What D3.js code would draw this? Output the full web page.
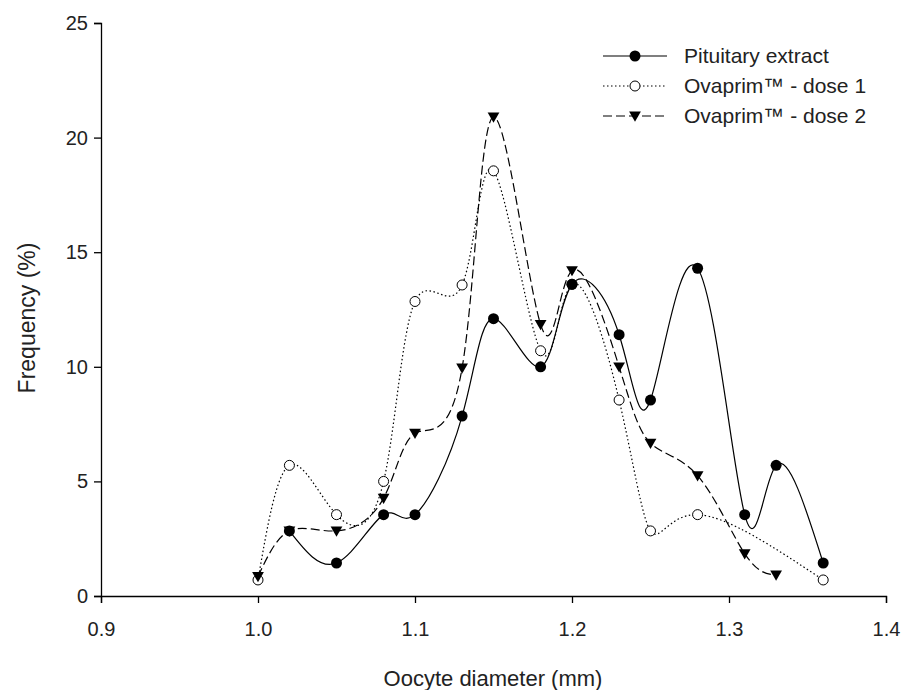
<!DOCTYPE html>
<html>
<head>
<meta charset="utf-8">
<script src="https://cdn.jsdelivr.net/npm/d3@7"></script>
<style>
  body { margin: 0; background: #fff; }
  svg { font-family: "Liberation Sans", Arial, sans-serif; }
</style>
</head>
<body>
<div id="chart"></div>
<script>
// data
var pitX = [1.02, 1.05, 1.08, 1.10, 1.13, 1.15, 1.18, 1.20, 1.23, 1.25, 1.28, 1.31, 1.33, 1.36];
var pitY = [2.84, 1.44, 3.55, 3.55, 7.85, 12.1, 10.0, 13.6, 11.4, 8.55, 14.3, 3.55, 5.7, 1.44];

var dose1X = [1.00, 1.02, 1.05, 1.08, 1.10, 1.13, 1.15, 1.18, 1.20, 1.23, 1.25, 1.28, 1.36];
var dose1Y = [0.7, 5.7, 3.55, 5.0, 12.85, 13.57, 18.55, 10.7, 13.6, 8.55, 2.84, 3.55, 0.7];

var dose2X = [1.00, 1.02, 1.05, 1.08, 1.10, 1.13, 1.15, 1.18, 1.20, 1.23, 1.25, 1.28, 1.31, 1.33];
var dose2Y = [0.85, 2.84, 2.84, 4.27, 7.1, 9.95, 20.9, 11.85, 14.2, 10.0, 6.67, 5.25, 1.85, 0.92];

var xTicks = [0.9, 1.0, 1.1, 1.2, 1.3, 1.4];
var yTicks = [0, 5, 10, 15, 20, 25];
var names = ["Pituitary extract", "Ovaprim\u2122 - dose 1", "Ovaprim\u2122 - dose 2"];

var w = 905,
    h = 690;

var svg = d3.select("#chart")
	.append("svg")
	.attr("width", w)
	.attr("height", h);

var x = d3.scaleLinear().domain([0.9, 1.4]).range([101, 886]);
var y = d3.scaleLinear().domain([0, 25]).range([596, 23]);

// axes
var xAxis = svg.append("g")
	.attr("transform", "translate(0,596)")
	.call(d3.axisBottom(x).tickValues(xTicks).tickFormat(d3.format(".1f")).tickSizeOuter(0).tickSize(7));
var yAxis = svg.append("g")
	.attr("transform", "translate(101,0)")
	.call(d3.axisLeft(y).tickValues(yTicks).tickSizeOuter(0).tickSize(7));

[xAxis, yAxis].forEach(function(a) {
	a.select(".domain").attr("stroke", "#000").attr("stroke-width", 1.3);
	a.selectAll(".tick line").attr("stroke", "#000").attr("stroke-width", 1.3);
	a.selectAll(".tick text")
		.attr("fill", "#222")
		.style("font-size", "20px")
		.style("font-family", "Liberation Sans, Arial, sans-serif");
});
xAxis.selectAll(".tick text").attr("dy", "1.5em");
yAxis.selectAll(".tick text").attr("x", -13);

svg.append("text")
	.attr("x", 493)
	.attr("y", 686)
	.attr("text-anchor", "middle")
	.style("font-size", "22px")
	.attr("fill", "#222")
	.text("Oocyte diameter (mm)");

svg.append("text")
	.attr("transform", "translate(35,318) rotate(-90)")
	.attr("text-anchor", "middle")
	.style("font-size", "23px")
	.attr("fill", "#222")
	.text("Frequency (%)");

function pts(xs, ys) {
	return xs.map(function(d, i) { return [d, ys[i]]; });
}

var line = d3.line()
	.x(function(d) { return x(d[0]); })
	.y(function(d) { return y(d[1]); })
	.curve(d3.curveNatural);

var series = [
	{ data: pts(dose1X, dose1Y), dash: "1.5,2.5", mark: "open" },
	{ data: pts(dose2X, dose2Y), dash: "9,4", mark: "tri" },
	{ data: pts(pitX, pitY), dash: null, mark: "dot" }
];

var tri = d3.symbol().type(d3.symbolTriangle).size(60);

function drawMark(g, kind, cx, cy) {
	if (kind === "dot") {
		g.append("circle").attr("cx", cx).attr("cy", cy).attr("r", 5.5).attr("fill", "#000");
	} else if (kind === "open") {
		g.append("circle").attr("cx", cx).attr("cy", cy).attr("r", 5)
			.attr("fill", "#fff").attr("stroke", "#000").attr("stroke-width", 1);
	} else {
		g.append("path").attr("d", tri)
			.attr("transform", "translate(" + cx + "," + (cy - 1) + ") rotate(180)")
			.attr("fill", "#000");
	}
}

series.forEach(function(s) {
	svg.append("path")
		.datum(s.data)
		.attr("d", line)
		.attr("fill", "none")
		.attr("stroke", "#000")
		.attr("stroke-width", 1.2)
		.attr("stroke-dasharray", s.dash);
});
series.forEach(function(s) {
	var g = svg.append("g");
	s.data.forEach(function(d) { drawMark(g, s.mark, x(d[0]), y(d[1])); });
});

// legend
var legend = [
	{ name: names[0], dash: null, mark: "dot" },
	{ name: names[1], dash: "1.5,2.5", mark: "open" },
	{ name: names[2], dash: "9,4", mark: "tri" }
];
legend.forEach(function(l, i) {
	var ly = 56 + i * 30;
	var g = svg.append("g");
	g.append("line")
		.attr("x1", 603).attr("x2", 667)
		.attr("y1", ly).attr("y2", ly)
		.attr("stroke", "#000").attr("stroke-width", 1.2)
		.attr("stroke-dasharray", l.dash);
	drawMark(g, l.mark, 635, ly);
	g.append("text")
		.attr("x", 684)
		.attr("y", ly + 7)
		.style("font-size", "21px")
		.attr("fill", "#222")
		.text(l.name);
});
</script>
</body>
</html>
